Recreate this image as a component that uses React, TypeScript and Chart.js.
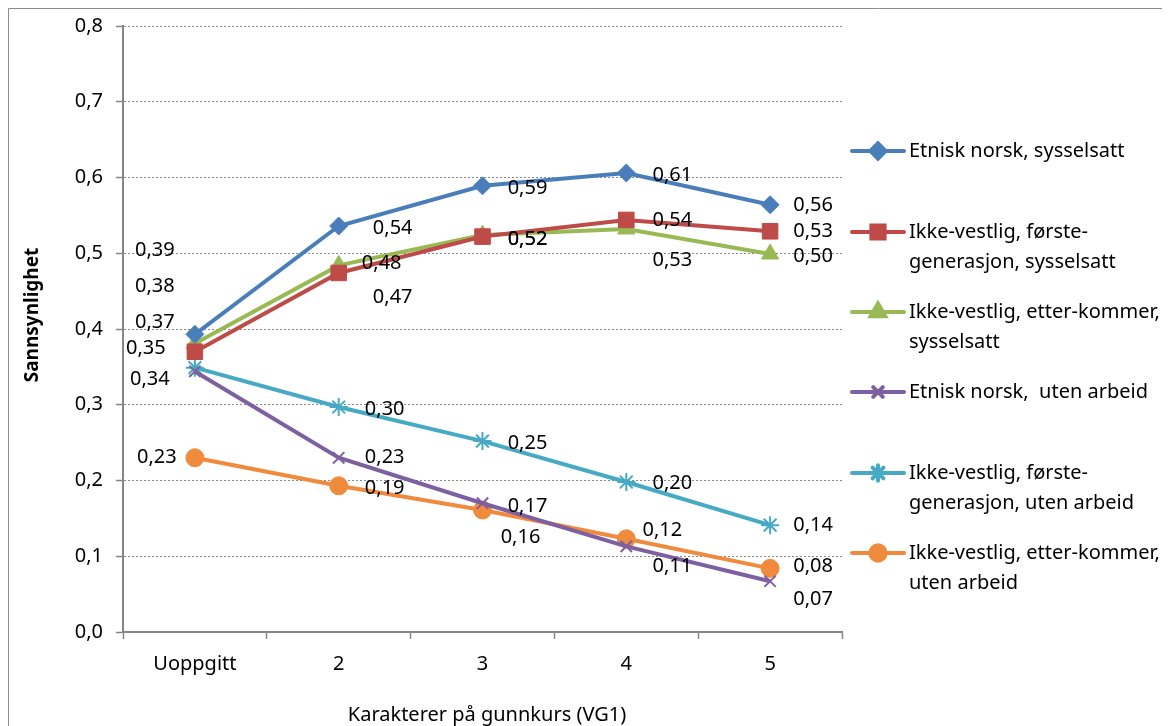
import React, { useEffect, useRef } from 'react';
import { Chart, registerables } from 'chart.js';
import { drawPoint } from 'chart.js/helpers';

Chart.register(...registerables);

const categories = ['Uoppgitt', '2', '3', '4', '5'];

const etniskNorskSysselsatt = [0.393, 0.536, 0.589, 0.606, 0.564];
const ikkeVestligForsteSysselsatt = [0.37, 0.474, 0.522, 0.544, 0.529];
const ikkeVestligEtterSysselsatt = [0.381, 0.484, 0.524, 0.532, 0.499];
const etniskNorskUtenArbeid = [0.344, 0.23, 0.17, 0.113, 0.067];
const ikkeVestligForsteUtenArbeid = [0.349, 0.297, 0.252, 0.198, 0.141];
const ikkeVestligEtterUtenArbeid = [0.23, 0.193, 0.161, 0.123, 0.084];

const seriesNames = [
  ['Etnisk norsk, sysselsatt'],
  ['Ikke-vestlig, første-', 'generasjon, sysselsatt'],
  ['Ikke-vestlig, etter-kommer,', 'sysselsatt'],
  ['Etnisk norsk,  uten arbeid'],
  ['Ikke-vestlig, første-', 'generasjon, uten arbeid'],
  ['Ikke-vestlig, etter-kommer,', 'uten arbeid'],
];

const yAxisTitle = 'Sannsynlighet';
const xAxisTitle = 'Karakterer på gunnkurs (VG1)';

const FONT = '"Noto Sans", sans-serif';
const FS = 20;

// Styling: colours, markers, label offsets
const colors = ['#4A7EBB', '#BE4B48', '#98B954', '#7D60A0', '#46AAC5', '#F08A3C'];
const pointStyles = ['rectRot', 'rect', 'triangle', 'crossRot', 'star', 'circle'];
const pointRadii = [9, 11, 10, 8, 9, 9];
const labelOffsets = [
  [[-40, -84], [54, 2], [45, 2], [46, 2], [43, 1]],
  [[-40, -29], [54, 24], [45, 3], [46, 0], [43, 0]],
  [[-40, -57], [43, -2], [45, 4], [46, 31], [43, 2]],
  [[-45, 8], [46, 0], [45, 3], [46, 20], [43, 18]],
  [[-49, -19], [46, 2], [45, 2], [46, 1], [43, 0]],
  [[-38, 0], [46, 2], [38, 27], [36, -9], [43, -2]],
];

const fmt = (v: number, d: number) => v.toFixed(d).replace('.', ',');

const overlayPlugin = {
  id: 'overlay',
  afterDatasetsDraw(chart: any) {
    const ctx = chart.ctx;
    ctx.save();
    ctx.font = `${FS}px ${FONT}`;
    ctx.fillStyle = '#000';
    ctx.textAlign = 'center';
    ctx.textBaseline = 'middle';
    chart.data.datasets.forEach((ds: any, i: number) => {
      const meta = chart.getDatasetMeta(i);
      meta.data.forEach((pt: any, j: number) => {
        const v = ds.data[j];
        const [dx, dy] = labelOffsets[i][j];
        ctx.fillText(fmt(Math.round(v * 100) / 100, 2), pt.x + dx, pt.y + dy);
      });
    });
    ctx.restore();
  },
  afterDraw(chart: any) {
    const ctx = chart.ctx;
    ctx.save();
    ctx.strokeStyle = '#8C8C8C';
    ctx.lineWidth = 1;
    ctx.beginPath();
    ctx.moveTo(0.5, chart.height);
    ctx.lineTo(0.5, 0.5);
    ctx.lineTo(chart.width, 0.5);
    ctx.stroke();

    ctx.fillStyle = '#000';
    ctx.textAlign = 'center';
    ctx.textBaseline = 'middle';
    ctx.font = `bold 19px ${FONT}`;
    ctx.save();
    ctx.translate(25, 307);
    ctx.rotate(-Math.PI / 2);
    ctx.fillText(yAxisTitle, 0, 0);
    ctx.restore();
    ctx.font = `${FS}px ${FONT}`;
    ctx.fillText(xAxisTitle, 479, 707);

    const ys = [143, 224, 304, 384, 465, 545];
    chart.data.datasets.forEach((ds: any, i: number) => {
      const y = ys[i];
      ctx.strokeStyle = colors[i];
      ctx.lineWidth = 4;
      ctx.lineCap = 'round';
      ctx.beginPath();
      ctx.moveTo(844, y);
      ctx.lineTo(896, y);
      ctx.stroke();
      ctx.fillStyle = colors[i];
      drawPoint(ctx, {
        pointStyle: pointStyles[i],
        radius: pointRadii[i] * 0.85,
        rotation: 0,
        borderWidth: i === 3 || i === 4 ? 2 : 1,
      } as any, 870, y);
      if (i !== 3 && i !== 4) ctx.fill();
      ctx.fillStyle = '#000';
      ctx.textAlign = 'left';
      ctx.font = `${FS}px ${FONT}`;
      seriesNames[i].forEach((line, k) => {
        ctx.fillText(line, 901, y + k * 30);
      });
    });
    ctx.restore();
  },
};

export default function App() {
  const ref = useRef<HTMLCanvasElement>(null);
  useEffect(() => {
    if (!ref.current) return;
    const seriesData = [
      etniskNorskSysselsatt,
      ikkeVestligForsteSysselsatt,
      ikkeVestligEtterSysselsatt,
      etniskNorskUtenArbeid,
      ikkeVestligForsteUtenArbeid,
      ikkeVestligEtterUtenArbeid,
    ];
    const chart = new Chart(ref.current, {
      type: 'line',
      data: {
        labels: categories,
        datasets: seriesData.map((d, i) => ({
          label: seriesNames[i].join(' '),
          data: d,
          borderColor: colors[i],
          backgroundColor: colors[i],
          pointBackgroundColor: colors[i],
          pointBorderColor: colors[i],
          pointBorderWidth: i === 3 || i === 4 ? 2 : 1,
          borderWidth: 4,
          pointStyle: pointStyles[i] as any,
          pointRadius: pointRadii[i],
          tension: 0,
          fill: false,
        })),
      },
      options: {
        animation: false,
        responsive: false,
        devicePixelRatio: 1,
        layout: { padding: { left: 0, top: 18, right: 328, bottom: 0 } },
        plugins: { legend: { display: false }, tooltip: { enabled: false } },
        scales: {
          x: {
            type: 'category',
            offset: true,
            afterFit: (s: any) => { s.height = 94; s.paddingLeft = 0; s.paddingRight = 0; },
            grid: {
              offset: true,
              drawOnChartArea: false,
              drawTicks: true,
              tickLength: 7,
              tickColor: '#868686',
              tickWidth: 1.5,
            },
            border: { color: '#868686', width: 2 },
            ticks: { color: '#000', font: { family: FONT, size: FS }, padding: 13, maxRotation: 0 },
          },
          y: {
            min: 0,
            max: 0.8,
            afterFit: (s: any) => { s.width = 115; s.paddingTop = 0; s.paddingBottom = 0; },
            ticks: {
              stepSize: 0.1,
              color: '#000',
              font: { family: FONT, size: FS },
              padding: 13,
              callback: (v: any) => fmt(Number(v), 1),
            },
            grid: {
              color: '#8A8A8A',
              lineWidth: 1,
              tickBorderDash: [],
              tickLength: 7,
              tickColor: '#868686',
              tickWidth: 1.5,
            },
            border: { color: '#868686', width: 2, dash: [2, 2] },
          },
        },
      },
      plugins: [overlayPlugin],
    });
    return () => chart.destroy();
  }, []);
  return (
    <div style={{ width: 1162, height: 718 }}>
      <canvas ref={ref} width={1162} height={718} style={{ display: 'block' }} />
    </div>
  );
}
